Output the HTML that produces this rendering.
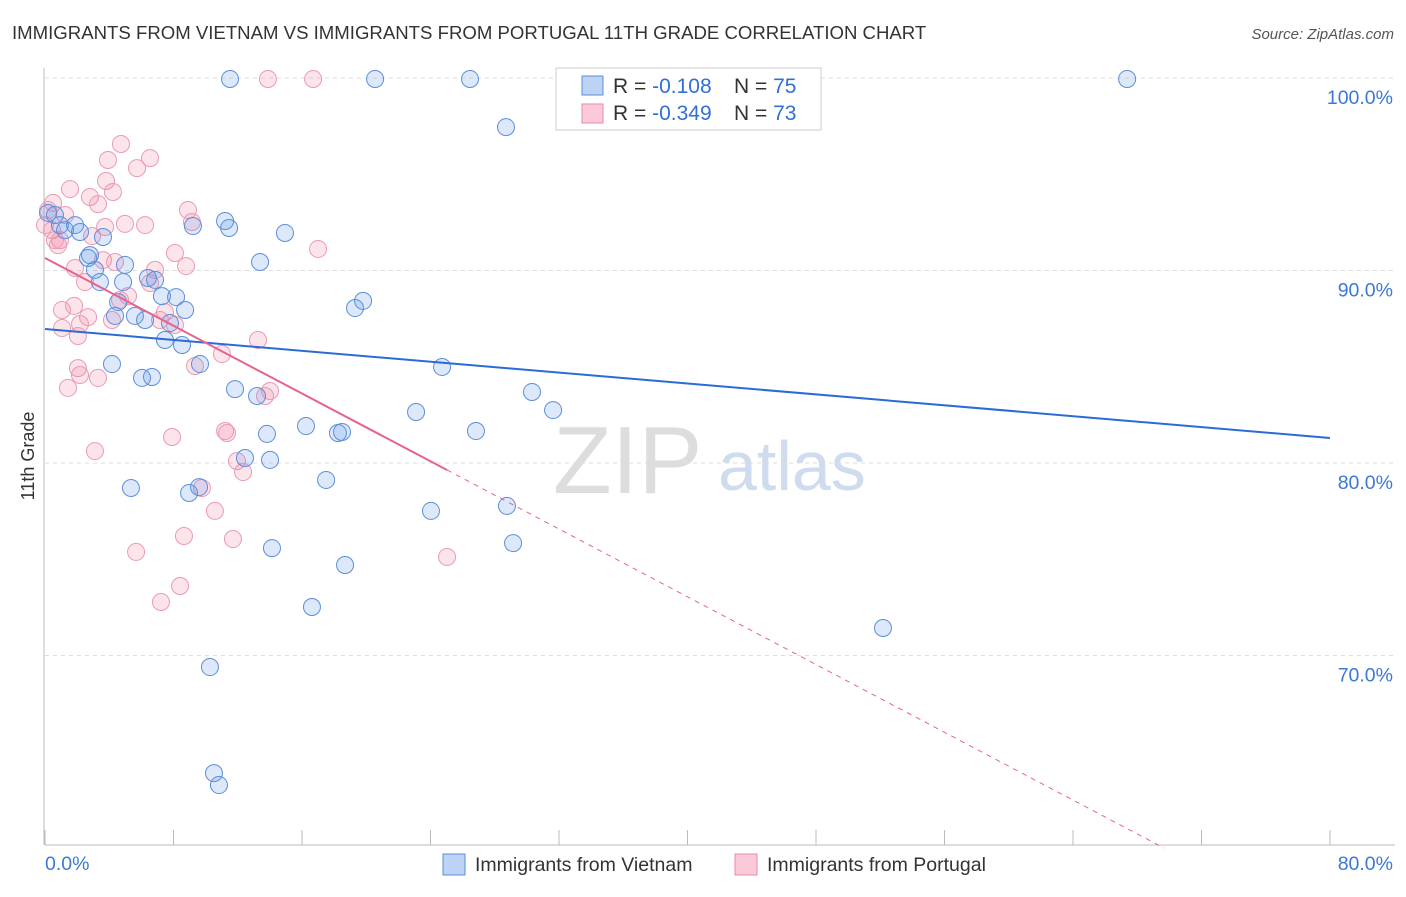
<!DOCTYPE html>
<html><head><meta charset="utf-8"><style>
body{margin:0;background:#fff;font-family:"Liberation Sans",sans-serif;}
svg text{font-family:"Liberation Sans",sans-serif;}
</style></head><body>
<svg id="c" width="1406" height="892" xmlns="http://www.w3.org/2000/svg">
<text x="12" y="39" font-size="18.6" fill="#333">IMMIGRANTS FROM VIETNAM VS IMMIGRANTS FROM PORTUGAL 11TH GRADE CORRELATION CHART</text>
<text x="1394" y="39" font-size="15" fill="#555" font-style="italic" text-anchor="end">Source: ZipAtlas.com</text>
<text x="34" y="456" font-size="18" fill="#333" text-anchor="middle" transform="rotate(-90 34 456)">11th Grade</text>
<g>
<text x="553" y="493" font-size="96" fill="#ddd" font-family="Liberation Serif">ZIP</text>
<text x="718" y="490" font-size="70" fill="#cfdcf0">atlas</text>
</g>
<g id="grid"></g><g id="axes"></g><g id="pts"></g><g id="trend"></g>
<g>
<rect x="556" y="68" width="265" height="62" fill="#fff" stroke="#ccc"/>
<rect x="582" y="76" width="21" height="19" fill="#bcd3f5" stroke="#5b8fd9"/>
<rect x="582" y="104" width="21" height="19" fill="#fbc9d8" stroke="#e88aa8"/>
<text x="613" y="93" font-size="21" fill="#333">R = <tspan fill="#2f6fd6">-0.108</tspan><tspan x="734">N = </tspan><tspan fill="#2f6fd6">75</tspan></text>
<text x="613" y="120" font-size="21" fill="#333">R = <tspan fill="#2f6fd6">-0.349</tspan><tspan x="734">N = </tspan><tspan fill="#2f6fd6">73</tspan></text>
</g>
<g>
<rect x="443" y="854" width="22" height="21" fill="#bcd3f5" stroke="#5b8fd9"/>
<text x="475" y="871" font-size="19.5" fill="#333">Immigrants from Vietnam</text>
<rect x="735" y="854" width="22" height="21" fill="#fbc9d8" stroke="#e88aa8"/>
<text x="767" y="871" font-size="19.5" fill="#333">Immigrants from Portugal</text>
</g>
</svg>
<script>
const yTicks=[100,90,80,70];
const yTickLabels=["100.0%","90.0%","80.0%","70.0%"];
const xTickLabels=["0.0%","80.0%"];
const vnX=[11.52,20.55,26.46,67.37,28.70,11.21,11.46,9.21,14.94,13.39,0.19,0.62,0.93,1.25,1.87,2.18,2.80,3.11,3.42,3.61,4.98,2.68,4.55,4.86,4.36,5.60,6.23,6.85,6.41,7.28,8.16,8.72,7.78,7.47,8.53,9.65,4.17,6.04,6.66,11.83,13.20,19.30,19.80,24.72,30.32,31.63,23.10,26.83,16.25,18.24,18.49,13.82,12.45,14.01,17.50,9.59,8.97,5.35,24.03,28.76,29.14,14.13,18.68,16.62,52.17,10.27,10.52,10.83];
const vnY=[99.95,99.95,99.95,99.95,97.45,92.57,92.21,92.31,91.95,90.44,92.99,92.88,92.36,92.10,92.36,92.0,90.80,90.03,89.40,91.74,90.29,90.65,88.36,89.40,87.64,87.64,87.43,89.51,89.61,88.67,88.62,87.95,87.27,86.39,86.13,85.14,85.14,84.42,84.47,83.84,83.48,88.05,88.42,84.99,83.69,82.75,82.65,81.66,81.92,81.56,81.61,81.51,80.26,80.16,79.12,78.75,78.44,78.70,77.51,77.77,75.84,75.58,74.70,72.52,71.43,69.40,63.89,63.27];
const ptX=[13.88,16.69,4.73,6.54,3.92,5.73,3.80,4.23,1.56,2.80,3.30,0.50,8.90,9.15,4.98,6.23,3.74,0.44,0.93,2.93,0.81,8.09,17.0,8.78,3.61,1.87,6.85,2.49,5.17,4.67,1.81,1.06,2.68,4.17,2.18,1.06,2.05,7.47,7.16,8.09,11.02,9.34,2.05,2.18,3.30,1.43,13.26,14.01,13.70,7.91,11.21,11.33,3.11,11.95,12.33,9.77,10.58,8.65,11.70,5.67,25.03,8.41,7.22,0.19,0,0.62,1.25,4.36,6.54];
const ptY=[99.95,99.95,96.57,95.84,95.74,95.32,94.65,94.08,94.23,93.82,93.45,93.51,93.14,92.52,92.42,92.36,92.26,92.10,91.58,91.79,91.32,90.91,91.12,90.23,90.54,90.13,90.03,89.40,88.67,88.47,88.16,87.95,87.58,87.43,87.22,87.01,86.60,87.84,87.43,87.17,85.66,85.04,84.93,84.57,84.42,83.90,86.39,83.74,83.48,81.35,81.66,81.56,80.62,80.10,79.53,78.70,77.51,76.21,76.05,75.38,75.12,73.61,72.78,93.14,92.36,91.58,92.88,90.44,89.35];
const vnTrend=[86.96,81.30];
const ptTrend=[90.65,-0.44];
const X0=45,X1=1330,Y100=78,PX=19.25;
const sx=v=>X0+v*(X1-X0)/80;
const sy=v=>Y100+(100-v)*PX;
const NS="http://www.w3.org/2000/svg";
function mk(t,a,p){const e=document.createElementNS(NS,t);for(const k in a)e.setAttribute(k,a[k]);p.appendChild(e);return e;}
const grid=document.getElementById('grid');
yTicks.forEach((t,i)=>{
 const l=mk('line',{x1:45,x2:1395,y1:sy(t),y2:sy(t),stroke:'#ddd','stroke-dasharray':'4,4'},grid);
 
 
 const tx=mk('text',{x:1393,y:sy(t)+26,'font-size':19.5,fill:'#3b78d8','text-anchor':'end'},grid);
 tx.textContent=yTickLabels[i];
 
 
});
const axes=document.getElementById('axes');
const ax=mk('line',{x1:45,x2:1395,y1:845,y2:845,stroke:'#bbb'},axes);


const ay=mk('line',{x1:44,x2:44,y1:68,y2:845,stroke:'#bbb'},axes);


for(let i=0;i<=10;i++){
 const tk=mk('line',{x1:sx(i*8),x2:sx(i*8),y1:830,y2:845,stroke:'#bbb'},axes);
 
 
}
[[0,'start',45],[80,'end',1393]].forEach((d,i)=>{
 const t=mk('text',{x:d[2],y:870,'font-size':19.5,fill:'#3b78d8','text-anchor':d[1]},axes);
 t.textContent=xTickLabels[i];
 
 
});
const pts=document.getElementById('pts');
ptX.forEach((x,i)=>{
 const c=mk('circle',{cx:sx(x),cy:sy(ptY[i]),r:8.5,fill:'rgba(240,130,165,0.22)',stroke:'#eb9ab4','stroke-width':1},pts);
 
 
});
vnX.forEach((x,i)=>{
 const c=mk('circle',{cx:sx(x),cy:sy(vnY[i]),r:8.5,fill:'rgba(100,150,230,0.22)',stroke:'#5b8fd9','stroke-width':1},pts);
 
 
});
const tr=document.getElementById('trend');
const bl=mk('line',{x1:sx(0),y1:sy(vnTrend[0]),x2:sx(80),y2:sy(vnTrend[1]),stroke:'#2a6bd4','stroke-width':2},tr);


const pf=x=>ptTrend[0]+ptTrend[1]*x;
const xs=25.03, xe=(60.0-ptTrend[0])/ptTrend[1];
const pl=mk('line',{x1:sx(0),y1:sy(pf(0)),x2:sx(xs),y2:sy(pf(xs)),stroke:'#e4648f','stroke-width':2},tr);


const pd=mk('line',{x1:sx(xs),y1:sy(pf(xs)),x2:sx(xe),y2:sy(pf(xe)),stroke:'#e4648f','stroke-width':1,'stroke-dasharray':'5,5'},tr);


</script>
</body></html>
